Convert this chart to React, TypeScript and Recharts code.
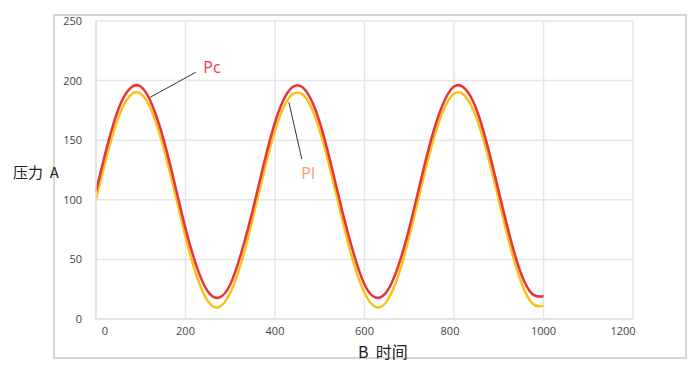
import React from 'react';
import { LineChart, Line, XAxis, YAxis, CartesianGrid, ReferenceLine, ReferenceDot } from 'recharts';

// sample positions along the B axis (time)
const times = [
  0, 25, 50, 75, 100, 125, 150, 175, 200, 225, 250, 275, 300, 325, 350, 375, 400, 425, 450, 475, 500,
  525, 550, 575, 600, 625, 650, 675, 700, 725, 750, 775, 800, 825, 850, 875, 900, 925, 950, 975, 1000,
];

// Pc (red) pressure
const pcValues = [
  107, 145, 176, 193, 195, 180, 152, 115, 76, 44, 23, 18, 29, 56, 91, 130, 165, 188, 196, 188, 165,
  130, 91, 56, 29, 18, 23, 44, 76, 115, 152, 180, 195, 193, 176, 145, 107, 69, 38, 21, 19,
];

// Pl (yellow) pressure
const plValues = [
  100, 138, 169, 187, 189, 174, 145, 108, 69, 36, 15, 10, 22, 48, 84, 123, 158, 182, 190, 182, 158,
  123, 84, 48, 22, 10, 15, 36, 69, 108, 145, 174, 189, 187, 169, 138, 100, 62, 31, 13, 11,
];

const xTicks = [0, 200, 400, 600, 800, 1000, 1200];
const yTicks = [0, 50, 100, 150, 200, 250];

// callout lines and labels, in data units
const pcCallout = [{ x: 121, y: 186 }, { x: 223, y: 207 }];
const pcLabelAt = { x: 259, y: 211 };
const plCallout = [{ x: 431, y: 182 }, { x: 460, y: 134 }];
const plLabelAt = { x: 474, y: 122 };

const data = times.map((t, i) => ({ t, pc: pcValues[i], pl: plValues[i] }));

const font = '"Open Sans", "Noto Sans", sans-serif';
const cjk = '"Noto Sans CJK SC", "Noto Sans", sans-serif';

const XTick = (props: any) => {
  const { x, y, payload } = props;
  // the source nudges the outer labels inwards a little
  const shift = payload.value === 0 ? 9 : payload.value === 1200 ? -10 : payload.value === 800 ? -4 : 0;
  return (
    <text x={x + shift} y={y} dy="0.71em" textAnchor="middle" fill="#444" fontSize={11} fontFamily={font}>
      {payload.value}
    </text>
  );
};

export default function App() {
  return (
    <div style={{ position: 'absolute', left: 0, top: 0, width: 698, height: 365, background: '#fff' }}>
      <div
        style={{
          position: 'absolute',
          left: 53,
          top: 14,
          width: 630,
          height: 341,
          border: '2px solid #d6d6d6',
        }}
      />
      <div style={{ position: 'absolute', left: 0, top: 0 }}>
        <LineChart width={698} height={365} data={data} margin={{ top: 21, right: 65, bottom: 16, left: 56 }}>
          <CartesianGrid stroke="#e6e6e6" strokeWidth={1.5} />
          <XAxis
            dataKey="t"
            type="number"
            domain={[0, 1200]}
            ticks={xTicks}
            height={30}
            tick={<XTick />}
            tickLine={false}
            axisLine={{ stroke: '#e0e0e0', strokeWidth: 1.5 }}
          />
          <YAxis
            type="number"
            domain={[0, 250]}
            ticks={yTicks}
            width={40}
            tickLine={false}
            tickMargin={8}
            axisLine={{ stroke: '#e0e0e0', strokeWidth: 1.5 }}
            tick={{ fill: '#444', fontSize: 11, fontFamily: font }}
          />
          <Line type="natural" dataKey="pl" stroke="#f7c416" strokeWidth={2.5} dot={false} isAnimationActive={false} />
          <Line type="natural" dataKey="pc" stroke="#e8333c" strokeWidth={2.5} dot={false} isAnimationActive={false} />
          <ReferenceLine segment={pcCallout} stroke="#333" strokeWidth={1} />
          <ReferenceLine segment={plCallout} stroke="#333" strokeWidth={1} />
          <ReferenceDot
            x={pcLabelAt.x}
            y={pcLabelAt.y}
            r={1}
            fill="none"
            stroke="none"
            label={{ value: 'Pc', position: 'center', fill: '#e8404a', fontSize: 16, fontFamily: font }}
          />
          <ReferenceDot
            x={plLabelAt.x}
            y={plLabelAt.y}
            r={1}
            fill="none"
            stroke="none"
            label={{ value: 'Pl', position: 'center', fill: '#f4a070', fontSize: 16, fontFamily: font }}
          />
        </LineChart>
      </div>
      <div style={{ position: 'absolute', left: 13, top: 161, fontSize: 15, fontFamily: cjk, color: '#222', whiteSpace: 'pre' }}>
        {'压力  A'}
      </div>
      <div style={{ position: 'absolute', left: 358, top: 339, fontSize: 16, fontFamily: cjk, color: '#222', whiteSpace: 'pre' }}>
        {'B  时间'}
      </div>
    </div>
  );
}
